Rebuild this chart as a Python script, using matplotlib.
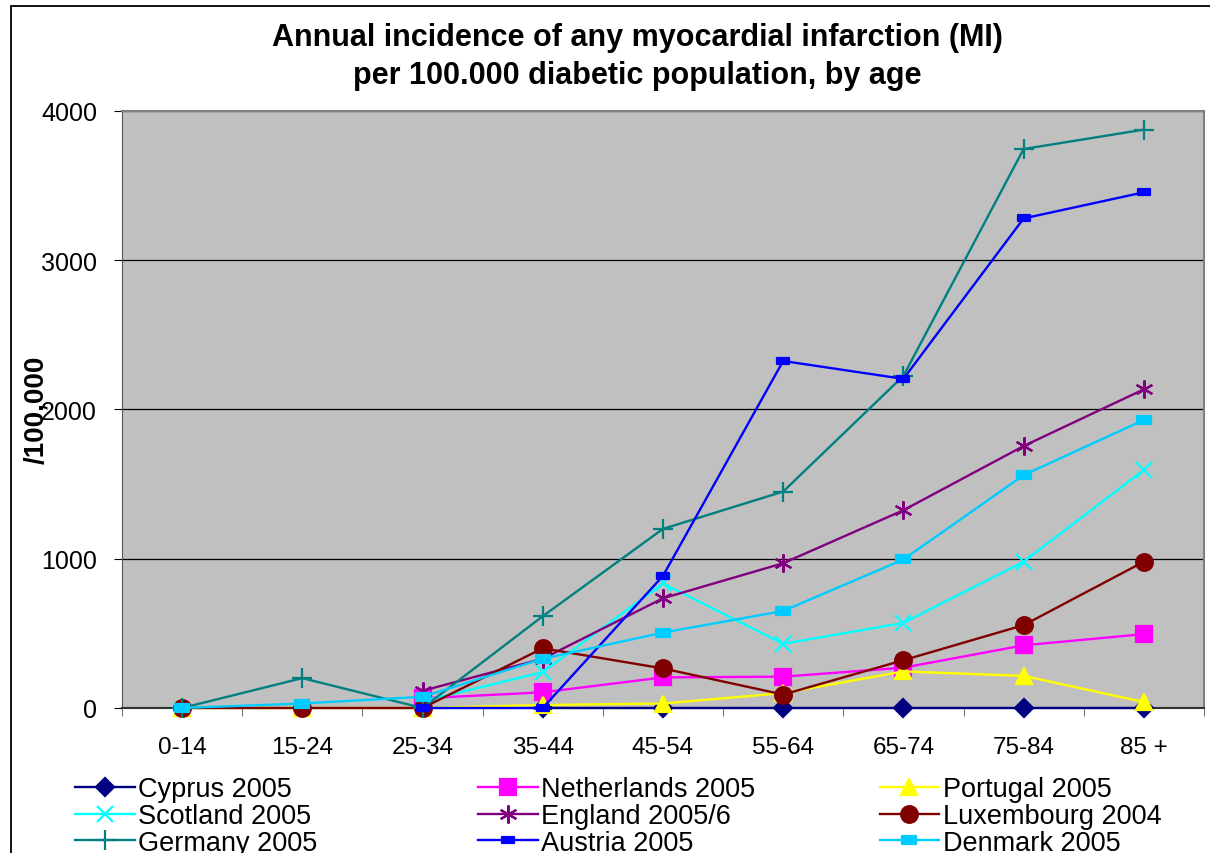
import matplotlib
matplotlib.use("Agg")
import matplotlib.pyplot as plt
import numpy as np
from matplotlib.path import Path
from matplotlib.patches import Rectangle

plt.rcParams["font.family"] = ["Liberation Sans", "DejaVu Sans"]

age_groups = ["0-14", "15-24", "25-34", "35-44", "45-54", "55-64", "65-74", "75-84", "85 +"]
nan = np.nan

# incidence per 100,000 diabetic population
cyprus = [nan, nan, nan, 0, 0, 0, 0, 0, 0]
netherlands = [nan, nan, 65, 105, 205, 210, 270, 420, 495]
portugal = [0, 0, 0, 20, 30, 100, 245, 215, 40]
scotland = [nan, nan, 45, 240, 835, 430, 570, 980, 1595]
england = [nan, nan, 115, 330, 735, 970, 1325, 1755, 2135]
luxembourg = [0, 0, 0, 400, 265, 90, 320, 555, 980]
germany = [0, 200, 0, 615, 1200, 1450, 2225, 3745, 3875]
austria = [nan, nan, 0, 0, 885, 2325, 2205, 3280, 3455]
denmark = [0, 30, 75, 330, 505, 650, 995, 1560, 1930]

# small wide bar marker, like excel's dash marker
bar_marker = Path([(-1, -0.55), (1, -0.55), (1, 0.55), (-1, 0.55), (-1, -0.55)],
                  [Path.MOVETO, Path.LINETO, Path.LINETO, Path.LINETO, Path.CLOSEPOLY])
asterisk = (6, 2, 0)

series = [
    ("Cyprus 2005", cyprus, "#000080", "D", 9),
    ("Netherlands 2005", netherlands, "#FF00FF", "s", 11),
    ("Portugal 2005", portugal, "#FFFF00", "^", 12),
    ("Scotland 2005", scotland, "#00FFFF", "x", 12),
    ("England 2005/6", england, "#800080", asterisk, 13),
    ("Luxembourg 2004", luxembourg, "#800000", "o", 12),
    ("Germany 2005", germany, "#008080", "+", 14),
    ("Austria 2005", austria, "#0000FF", bar_marker, 8),
    ("Denmark 2005", denmark, "#00CCFF", bar_marker, 10),
]

fig = plt.figure(figsize=(12.1, 8.54), dpi=100)
ax = fig.add_axes([0.1008, 0.1698, 0.8942, 0.6991])
ax.set_facecolor("#C0C0C0")

x = np.arange(len(age_groups))
handles = {}
for name, vals, color, marker, ms in series:
    line, = ax.plot(x, vals, color=color, lw=1.7, marker=marker, ms=ms,
                    markeredgecolor=color, markerfacecolor=color,
                    mew=1.6, label=name, zorder=3, clip_on=False)
    handles[name] = line

ax.set_xlim(-0.5, len(age_groups) - 0.5)
ax.set_ylim(0, 4000)
ax.set_yticks([0, 1000, 2000, 3000, 4000])
ax.set_xticks(x)
ax.set_xticklabels(age_groups)
ax.set_xticks(np.arange(-0.5, len(age_groups)), minor=True)
ax.tick_params(axis="x", which="major", length=0, pad=20, labelsize=17.5)
ax.tick_params(axis="x", which="minor", length=6, direction="out", color="#555555")
ax.tick_params(axis="y", length=6, direction="out", pad=12, labelsize=18)

ax.grid(axis="y", color="black", lw=0.9)
ax.set_axisbelow(True)
for side in ["top", "right"]:
    ax.spines[side].set_color("#808080")
    ax.spines[side].set_linewidth(1.5)
ax.spines["left"].set_color("#555555")
ax.spines["bottom"].set_color("#333333")
ax.spines["bottom"].set_linewidth(1.5)

fig.text(0.03, 0.52, "/100,000", rotation=90, ha="center", va="center",
         fontsize=20, fontweight="bold")
fig.text(0.527, 0.955, "Annual incidence of any myocardial infarction (MI)",
         ha="center", va="center", fontsize=22, fontweight="bold")
fig.text(0.527, 0.911, "per 100.000 diabetic population, by age",
         ha="center", va="center", fontsize=22, fontweight="bold")

# outer chart frame (right and bottom edges fall outside the image)
fig.add_artist(Rectangle((11 / 1210, -0.2), 1.2, 1.2 - 7 / 854, fill=False,
                         edgecolor="black", lw=1.3, transform=fig.transFigure))

legend_cols = [
    ["Cyprus 2005", "Scotland 2005", "Germany 2005"],
    ["Netherlands 2005", "England 2005/6", "Austria 2005"],
    ["Portugal 2005", "Luxembourg 2004", "Denmark 2005"],
]
col_x = [0.062, 0.395, 0.727]
for names, cx in zip(legend_cols, col_x):
    fig.legend([handles[n] for n in names], names, loc="upper left",
               bbox_to_anchor=(cx, 0.0896), frameon=False, fontsize=19.5,
               handlelength=2.2, handletextpad=0.12, labelspacing=0.02,
               borderpad=0, borderaxespad=0)

fig.savefig("out.png", dpi=100)
